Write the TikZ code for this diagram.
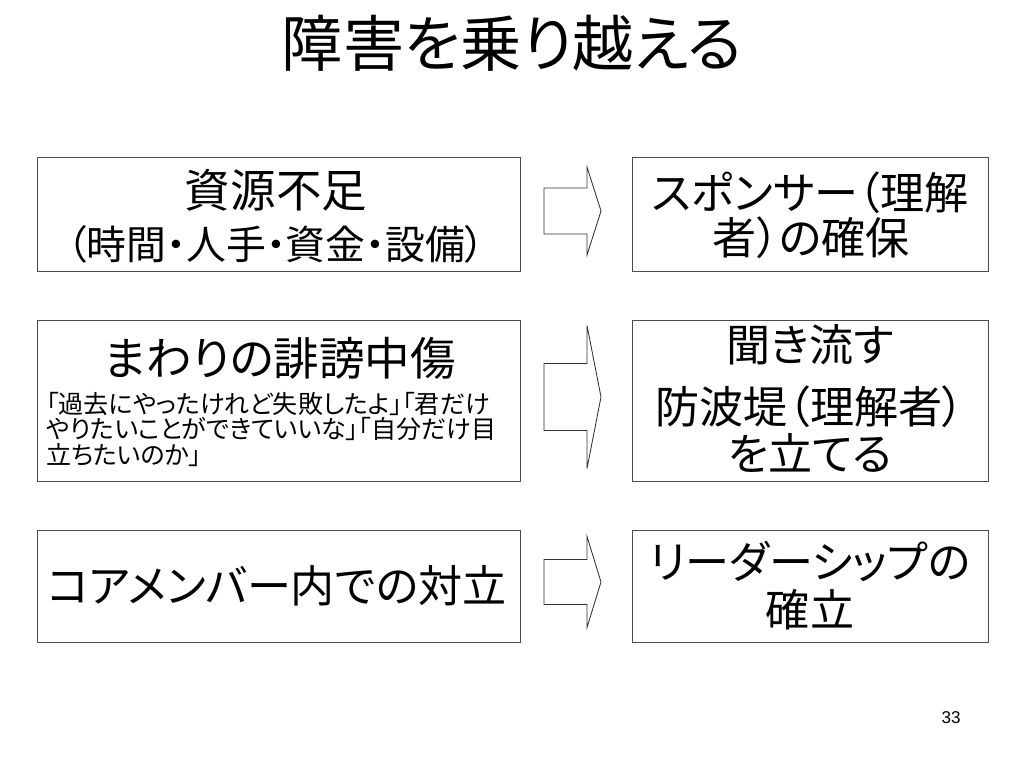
\documentclass[tikz,border=0pt]{standalone}
\usepackage{fontspec}
\setmainfont{Noto Sans CJK JP}[RawFeature=+palt]
\newfontfamily\numfont{Liberation Sans}

\begin{document}
\begin{tikzpicture}[x=0.703125pt,y=-0.703125pt,
    waku/.style={draw=black!70, line width=0.7pt},
    yajirushi/.style={draw=black!80, line width=0.6pt, fill=white},
    dai/.style={font=\fontsize{32}{36}\selectfont, inner sep=0pt},
    migi/.style={font=\fontsize{31}{35}\selectfont, inner sep=0pt},
    ko/.style={font=\fontsize{17.6}{20}\selectfont, inner sep=0pt, anchor=west}]
    \useasboundingbox (0,0) rectangle (1024,768);
    \node[font=\fontsize{43}{47}\selectfont] (title) at (512,43) {障害を乗り越える};
    % boxes
    \draw[waku] (37,158) rectangle (520,271);
    \draw[waku] (37,320) rectangle (520,481);
    \draw[waku] (37,530) rectangle (520,642);
    \draw[waku] (632,158) rectangle (988,271);
    \draw[waku] (632,320) rectangle (988,481);
    \draw[waku] (632,530) rectangle (988,642);
    % arrows
    \foreach \yc/\sh/\hh in {211/23/44, 397/33.5/71.5, 582/22.5/45.5}
        \draw[yajirushi] (544,\yc-\sh) -- (587,\yc-\sh) -- (587,\yc-\hh) -- (601,\yc)
            -- (587,\yc+\hh) -- (587,\yc+\sh) -- (544,\yc+\sh) -- cycle;
    % left texts
    \node[dai] (shigen) at (276,190) {資源不足};
    \node[dai, font=\fontsize{28}{32}\selectfont] (naiyou) at (276,244) {（時間・人手・資金・設備）};
    \node[dai] (hibou) at (280,358) {まわりの誹謗中傷};
    \node[ko] (kotoba1) at (46,404) {「過去にやったけれど失敗したよ」「君だけ};
    \node[ko] (kotoba2) at (46,429) {やりたいことができていいな」「自分だけ目};
    \node[ko] (kotoba3) at (46,455) {立ちたいのか」};
    \node[dai, font=\fontsize{31}{35}\selectfont] (tairitsu) at (277,586) {コアメンバー内での対立};
    % right texts
    \node[migi] (sponsor1) at (810,193) {スポンサー（理解};
    \node[migi] (sponsor2) at (811,238) {者）の確保};
    \node[migi] (kiki) at (810,345) {聞き流す};
    \node[migi] (bouha) at (810,407) {防波堤（理解者）};
    \node[migi] (tateru) at (810,453) {を立てる};
    \node[migi] (leader1) at (810,562) {リーダーシップの};
    \node[migi] (leader2) at (810,610) {確立};
    \node[font=\numfont\fontsize{12}{14}\selectfont] (page) at (951,718) {33};
\end{tikzpicture}
\end{document}
